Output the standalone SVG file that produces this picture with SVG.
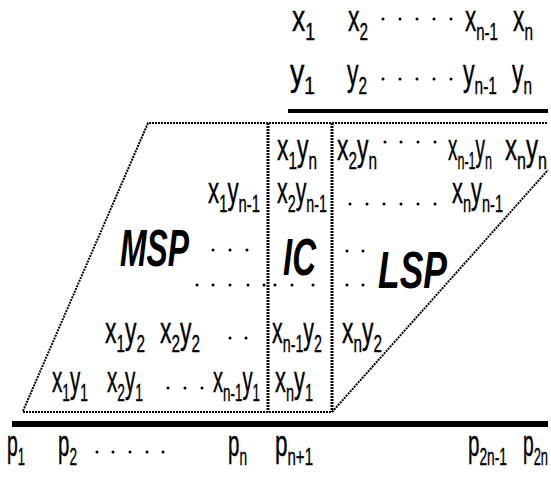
<svg xmlns="http://www.w3.org/2000/svg" width="551" height="483" viewBox="0 0 551 483">
<style>
.t{font-family:"Liberation Sans",Arial,sans-serif;font-size:27px;fill:#000;stroke:#000;stroke-width:0.3}
.s{font-size:18px}
.b{font-family:"Liberation Sans",Arial,sans-serif;font-size:39px;font-weight:bold;font-style:italic;fill:#000}
.dot{stroke:#000;stroke-width:2;stroke-dasharray:2 1;fill:none}
.dotv{stroke:#000;stroke-width:3;stroke-dasharray:2 1;fill:none}
.thick{stroke:#000;fill:none}
</style>
<rect width="551" height="483" fill="#fff"/>
<g id="connectors">
<line class="thick" x1="288" y1="111" x2="548" y2="111" stroke-width="4"/>
<line class="thick" x1="12" y1="424" x2="548" y2="424" stroke-width="6"/>
<polyline class="dot" points="23,411 148,123 548,123"/>
<line class="dot" x1="23" y1="412" x2="332" y2="412"/>
<line class="dotv" x1="268" y1="123" x2="268" y2="412"/>
<line class="dotv" x1="332" y1="123" x2="332" y2="412"/>
<line class="dot" x1="332" y1="412" x2="548" y2="170"/>
</g>
<g id="dots" fill="#000">
<circle cx="383" cy="19" r="1.5"/><circle cx="400" cy="19" r="1.5"/><circle cx="417" cy="19" r="1.5"/><circle cx="434" cy="19" r="1.5"/><circle cx="451" cy="19" r="1.5"/>
<circle cx="383" cy="79" r="1.5"/><circle cx="400" cy="79" r="1.5"/><circle cx="417" cy="79" r="1.5"/><circle cx="434" cy="79" r="1.5"/><circle cx="451" cy="79" r="1.5"/>
<circle cx="385" cy="142" r="1.5"/><circle cx="401" cy="142" r="1.5"/><circle cx="418" cy="142" r="1.5"/><circle cx="435" cy="142" r="1.5"/>
<circle cx="350" cy="204" r="1.5"/><circle cx="367" cy="204" r="1.5"/><circle cx="384" cy="204" r="1.5"/><circle cx="401" cy="204" r="1.5"/><circle cx="418" cy="204" r="1.5"/><circle cx="435" cy="204" r="1.5"/>
<circle cx="213" cy="250" r="1.5"/><circle cx="230" cy="250" r="1.5"/><circle cx="247" cy="250" r="1.5"/>
<circle cx="347" cy="251" r="1.5"/><circle cx="363" cy="251" r="1.5"/>
<circle cx="197" cy="285" r="1.5"/><circle cx="213" cy="285" r="1.5"/><circle cx="230" cy="285" r="1.5"/><circle cx="248" cy="285" r="1.5"/><circle cx="264" cy="285" r="1.5"/>
<circle cx="275" cy="285" r="1.5"/><circle cx="292" cy="285" r="1.5"/><circle cx="313" cy="285" r="1.5"/>
<circle cx="347" cy="285" r="1.5"/><circle cx="363" cy="285" r="1.5"/>
<circle cx="230" cy="338" r="1.5"/><circle cx="246" cy="338" r="1.5"/>
<circle cx="168" cy="388" r="1.5"/><circle cx="185" cy="388" r="1.5"/><circle cx="202" cy="388" r="1.5"/>
<circle cx="97" cy="452" r="1.5"/><circle cx="113" cy="452" r="1.5"/><circle cx="130" cy="452" r="1.5"/><circle cx="147" cy="452" r="1.5"/><circle cx="163" cy="452" r="1.5"/>
</g>
<g id="labels-x">
<text class="t" transform="translate(292,31) scale(1,1.35)" textLength="23" lengthAdjust="spacingAndGlyphs">x<tspan class="s" dy="6.7">1</tspan></text>
<text class="t" transform="translate(348,31) scale(1,1.35)" textLength="20" lengthAdjust="spacingAndGlyphs">x<tspan class="s" dy="6.7">2</tspan></text>
<text class="t" transform="translate(465,31) scale(1,1.35)" textLength="33" lengthAdjust="spacingAndGlyphs">x<tspan class="s" dy="6.7">n-1</tspan></text>
<text class="t" transform="translate(513,31) scale(1,1.35)" textLength="20" lengthAdjust="spacingAndGlyphs">x<tspan class="s" dy="6.7">n</tspan></text>
</g>
<g id="labels-y">
<text class="t" transform="translate(290,85) scale(1,1.35)" textLength="25" lengthAdjust="spacingAndGlyphs">y<tspan class="s" dy="6.7">1</tspan></text>
<text class="t" transform="translate(347,85) scale(1,1.35)" textLength="20" lengthAdjust="spacingAndGlyphs">y<tspan class="s" dy="6.7">2</tspan></text>
<text class="t" transform="translate(463,85) scale(1,1.35)" textLength="34" lengthAdjust="spacingAndGlyphs">y<tspan class="s" dy="6.7">n-1</tspan></text>
<text class="t" transform="translate(512,85) scale(1,1.35)" textLength="20" lengthAdjust="spacingAndGlyphs">y<tspan class="s" dy="6.7">n</tspan></text>
</g>
<g id="MSP">
<text class="b" transform="translate(120,266) scale(1,1.35)" textLength="69" lengthAdjust="spacingAndGlyphs">MSP</text>
<text class="t" transform="translate(208,203) scale(1,1.35)" textLength="52" lengthAdjust="spacingAndGlyphs">x<tspan class="s" dy="6.7">1</tspan><tspan dy="-6.7">y</tspan><tspan class="s" dy="6.7">n-1</tspan></text>
<text class="t" transform="translate(105,343) scale(1,1.35)" textLength="40" lengthAdjust="spacingAndGlyphs">x<tspan class="s" dy="6.7">1</tspan><tspan dy="-6.7">y</tspan><tspan class="s" dy="6.7">2</tspan></text>
<text class="t" transform="translate(160,343) scale(1,1.35)" textLength="40" lengthAdjust="spacingAndGlyphs">x<tspan class="s" dy="6.7">2</tspan><tspan dy="-6.7">y</tspan><tspan class="s" dy="6.7">2</tspan></text>
<text class="t" transform="translate(52,392) scale(1,1.35)" textLength="36" lengthAdjust="spacingAndGlyphs">x<tspan class="s" dy="6.7">1</tspan><tspan dy="-6.7">y</tspan><tspan class="s" dy="6.7">1</tspan></text>
<text class="t" transform="translate(107,392) scale(1,1.35)" textLength="36" lengthAdjust="spacingAndGlyphs">x<tspan class="s" dy="6.7">2</tspan><tspan dy="-6.7">y</tspan><tspan class="s" dy="6.7">1</tspan></text>
<text class="t" transform="translate(213,392) scale(1,1.35)" textLength="47" lengthAdjust="spacingAndGlyphs">x<tspan class="s" dy="6.7">n-1</tspan><tspan dy="-6.7">y</tspan><tspan class="s" dy="6.7">1</tspan></text>
</g>
<g id="IC">
<text class="b" transform="translate(283,275) scale(1,1.35)" textLength="33" lengthAdjust="spacingAndGlyphs">IC</text>
<text class="t" transform="translate(277,160) scale(1,1.35)" textLength="40" lengthAdjust="spacingAndGlyphs">x<tspan class="s" dy="6.7">1</tspan><tspan dy="-6.7">y</tspan><tspan class="s" dy="6.7">n</tspan></text>
<text class="t" transform="translate(277,203) scale(1,1.35)" textLength="50" lengthAdjust="spacingAndGlyphs">x<tspan class="s" dy="6.7">2</tspan><tspan dy="-6.7">y</tspan><tspan class="s" dy="6.7">n-1</tspan></text>
<text class="t" transform="translate(272,343) scale(1,1.35)" textLength="50" lengthAdjust="spacingAndGlyphs">x<tspan class="s" dy="6.7">n-1</tspan><tspan dy="-6.7">y</tspan><tspan class="s" dy="6.7">2</tspan></text>
<text class="t" transform="translate(275,392) scale(1,1.35)" textLength="38" lengthAdjust="spacingAndGlyphs">x<tspan class="s" dy="6.7">n</tspan><tspan dy="-6.7">y</tspan><tspan class="s" dy="6.7">1</tspan></text>
</g>
<g id="LSP">
<text class="b" transform="translate(378,288) scale(1,1.35)" textLength="69" lengthAdjust="spacingAndGlyphs">LSP</text>
<text class="t" transform="translate(337,160) scale(1,1.35)" textLength="40" lengthAdjust="spacingAndGlyphs">x<tspan class="s" dy="6.7">2</tspan><tspan dy="-6.7">y</tspan><tspan class="s" dy="6.7">n</tspan></text>
<text class="t" transform="translate(448,160) scale(1,1.35)" textLength="44" lengthAdjust="spacingAndGlyphs">x<tspan class="s" dy="6.7">n-1</tspan><tspan dy="-6.7">y</tspan><tspan class="s" dy="6.7">n</tspan></text>
<text class="t" transform="translate(505,160) scale(1,1.35)" textLength="42" lengthAdjust="spacingAndGlyphs">x<tspan class="s" dy="6.7">n</tspan><tspan dy="-6.7">y</tspan><tspan class="s" dy="6.7">n</tspan></text>
<text class="t" transform="translate(452,203) scale(1,1.35)" textLength="51" lengthAdjust="spacingAndGlyphs">x<tspan class="s" dy="6.7">n</tspan><tspan dy="-6.7">y</tspan><tspan class="s" dy="6.7">n-1</tspan></text>
<text class="t" transform="translate(342,343) scale(1,1.35)" textLength="40" lengthAdjust="spacingAndGlyphs">x<tspan class="s" dy="6.7">n</tspan><tspan dy="-6.7">y</tspan><tspan class="s" dy="6.7">2</tspan></text>
</g>
<g id="labels-p">
<text class="t" transform="translate(7,456) scale(1,1.35)" textLength="18" lengthAdjust="spacingAndGlyphs">p<tspan class="s" dy="6.7">1</tspan></text>
<text class="t" transform="translate(58,456) scale(1,1.35)" textLength="19" lengthAdjust="spacingAndGlyphs">p<tspan class="s" dy="6.7">2</tspan></text>
<text class="t" transform="translate(228,456) scale(1,1.35)" textLength="19" lengthAdjust="spacingAndGlyphs">p<tspan class="s" dy="6.7">n</tspan></text>
<text class="t" transform="translate(275,456) scale(1,1.35)" textLength="38" lengthAdjust="spacingAndGlyphs">p<tspan class="s" dy="6.7">n+1</tspan></text>
<text class="t" transform="translate(468,456) scale(1,1.35)" textLength="39" lengthAdjust="spacingAndGlyphs">p<tspan class="s" dy="6.7">2n-1</tspan></text>
<text class="t" transform="translate(523,456) scale(1,1.35)" textLength="25" lengthAdjust="spacingAndGlyphs">p<tspan class="s" dy="6.7">2n</tspan></text>
</g>
</svg>
